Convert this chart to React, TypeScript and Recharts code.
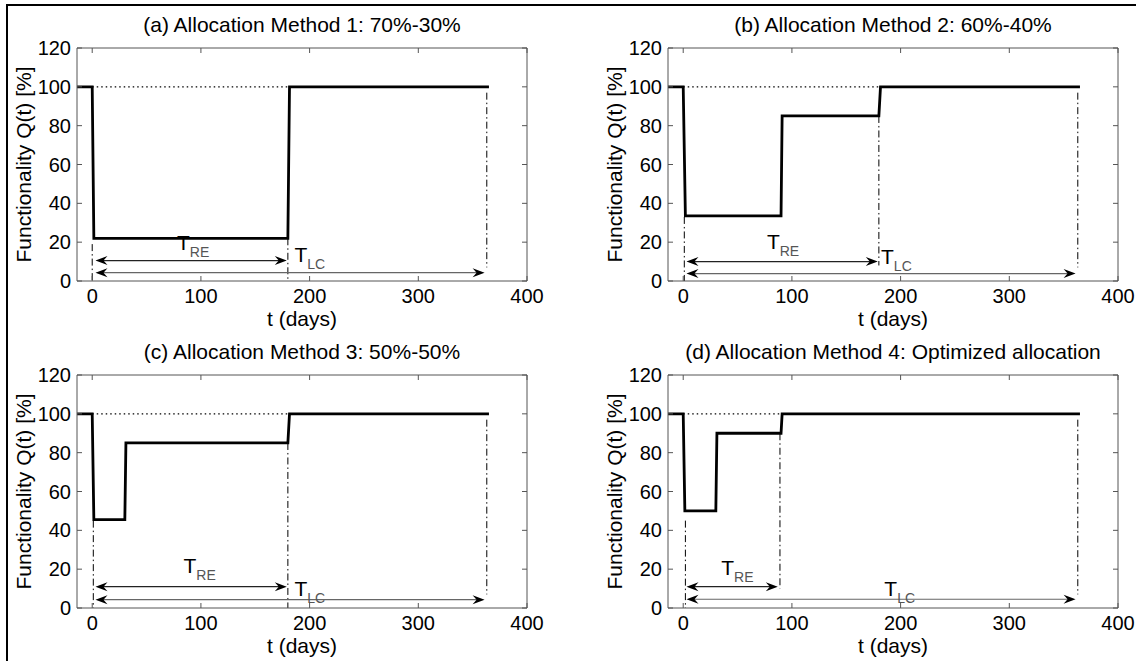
import { LineChart, Line, XAxis, YAxis, ReferenceLine, ReferenceDot, Label } from 'recharts'

const titles = [
    '(a) Allocation Method 1: 70%-30%',
    '(b) Allocation Method 2: 60%-40%',
    '(c) Allocation Method 3: 50%-50%',
    '(d) Allocation Method 4: Optimized allocation',
]

const xTicks = [0, 100, 200, 300, 400]
const yTicks = [0, 20, 40, 60, 80, 100, 120]

// functionality Q(t) step curves
const tA = [-14, 0, 1.5, 180, 181.5, 365]
const qA = [100, 100, 22, 22, 100, 100]
const tB = [-14, 0, 2, 90, 91, 180, 181.5, 365]
const qB = [100, 100, 33.5, 33.5, 85, 85, 100, 100]
const tC = [-14, 0, 1.5, 30, 31, 180, 181.5, 365]
const qC = [100, 100, 45.5, 45.5, 85, 85, 100, 100]
const tD = [-14, 0, 1.5, 30, 31, 90, 91, 365]
const qD = [100, 100, 50, 50, 90, 90, 100, 100]

// markers
const dropT = [0, 1, 1, 2]
const dropTop = [19, 33, 45, 45]
const recoveryEnd = [180, 180, 180, 89]
const recoveryTop = [22, 85, 85, 90]
const recoveryBottom = [0, 8, 0, 10]
const dottedEnd = [181, 182, 182, 91]
const lifeCycleEnd = 363
const lifeCycleTop = 97
const lifeCycleBottom = 7
const reArrowStart = [3, 3, 3, 3]
const reArrowEnd = [179, 179, 179, 87]
const lcArrowEnd = 361
const reArrowY = [10.5, 10, 11, 11]
const lcArrowY = [4.3, 3.8, 4.3, 4.5]
const reLabelX = [78, 77, 84, 35]
const reLabelY = [16, 16.5, 18, 17]
const lcLabelX = [186, 182, 186, 185]
const lcLabelY = [10, 9, 6, 6]

const curves = [
    tA.map((t, i) => ({ t, q: qA[i] })),
    tB.map((t, i) => ({ t, q: qB[i] })),
    tC.map((t, i) => ({ t, q: qC[i] })),
    tD.map((t, i) => ({ t, q: qD[i] })),
]

const chartLeft = [0, 591, 0, 591]
const chartTop = [0, 0, 327, 327]
const chartWidth = [560, 545, 560, 545]

const dashDot = '7 3 1.5 3'

function Arrow(props: any) {
    const { x1, y1, x2, y2, stroke } = props
    const L = 12, w = 4.5, n = 4
    return (
        <g>
            <line x1={x1 + 4} y1={y1} x2={x2 - 4} y2={y2} stroke={stroke} strokeWidth={1.2} />
            <polygon points={`${x1},${y1} ${x1 + L},${y1 - w} ${x1 + L - n},${y1} ${x1 + L},${y1 + w}`} fill="#000" />
            <polygon points={`${x2},${y2} ${x2 - L},${y2 - w} ${x2 - L + n},${y2} ${x2 - L},${y2 + w}`} fill="#000" />
        </g>
    )
}

function subLabel(main: string, sub: string) {
    return (props: any) => (
        <text x={props.cx} y={props.cy} fontSize={21} fill="#000">
            <tspan>{main}</tspan>
            <tspan dy={7} fontSize={14} fill="#555">{sub}</tspan>
        </text>
    )
}

function Panel({ i }: { i: number }) {
    return (
        <div style={{ position: 'absolute', left: chartLeft[i], top: chartTop[i] }}>
            <LineChart width={chartWidth[i]} height={330}
                margin={{ top: 47, right: chartWidth[i] - 528, bottom: 0, left: 0 }}>
                <XAxis dataKey="t" type="number" domain={[-14, 400]} ticks={xTicks} allowDataOverflow
                    interval={0} height={49} tickSize={-5} tickMargin={13}
                    tick={{ fontSize: 20, fill: '#000' }}
                    axisLine={{ stroke: '#555' }} tickLine={{ stroke: '#555' }}
                    label={<Label content={(p: any) => (
                        <text x={p.viewBox.x + p.viewBox.width / 2} y={p.viewBox.y + 45}
                            textAnchor="middle" fontSize={21} fill="#000">t (days)</text>
                    )} />} />
                <XAxis xAxisId="top" dataKey="t" orientation="top" type="number" domain={[-14, 400]} ticks={xTicks}
                    allowDataOverflow interval={0} height={1} tickSize={-5} tickFormatter={() => ''}
                    axisLine={{ stroke: '#555' }} tickLine={{ stroke: '#555' }}
                    label={<Label content={(p: any) => (
                        <text x={p.viewBox.x + p.viewBox.width / 2} y={p.viewBox.y - 15}
                            textAnchor="middle" fontSize={21} fill="#000">{titles[i]}</text>
                    )} />} />
                <YAxis type="number" domain={[0, 120]} ticks={yTicks} allowDataOverflow interval={0}
                    width={77} tickSize={-5} tickMargin={11}
                    tick={{ fontSize: 20, fill: '#000' }}
                    axisLine={{ stroke: '#555' }} tickLine={{ stroke: '#555' }}
                    label={<Label content={(p: any) => {
                        const cy = p.viewBox.y + p.viewBox.height / 2
                        return (
                            <text x={31} y={cy} transform={`rotate(-90, 31, ${cy})`}
                                textAnchor="middle" fontSize={21} fill="#000">Functionality Q(t) [%]</text>
                        )
                    }} />} />
                <YAxis yAxisId="right" orientation="right" type="number" domain={[0, 120]} ticks={yTicks}
                    allowDataOverflow interval={0} width={1} tickSize={-5} tickFormatter={() => ''}
                    axisLine={{ stroke: '#555' }} tickLine={{ stroke: '#555' }} />

                <ReferenceLine segment={[{ x: 0, y: 100 }, { x: dottedEnd[i], y: 100 }]}
                    stroke="#000" strokeWidth={1.2} strokeDasharray="1.5 3" />
                <ReferenceLine segment={[{ x: dropT[i], y: dropTop[i] }, { x: dropT[i], y: 0 }]}
                    stroke="#000" strokeWidth={1} strokeDasharray={dashDot} />
                <ReferenceLine segment={[{ x: recoveryEnd[i], y: recoveryTop[i] }, { x: recoveryEnd[i], y: recoveryBottom[i] }]}
                    stroke="#000" strokeWidth={1} strokeDasharray={dashDot} />
                <ReferenceLine segment={[{ x: lifeCycleEnd, y: lifeCycleTop }, { x: lifeCycleEnd, y: lifeCycleBottom }]}
                    stroke="#000" strokeWidth={1} strokeDasharray={dashDot} />

                <ReferenceLine segment={[{ x: reArrowStart[i], y: reArrowY[i] }, { x: reArrowEnd[i], y: reArrowY[i] }]}
                    stroke="#222" shape={Arrow} />
                <ReferenceLine segment={[{ x: reArrowStart[i], y: lcArrowY[i] }, { x: lcArrowEnd, y: lcArrowY[i] }]}
                    stroke="#666" shape={Arrow} />

                <ReferenceDot x={reLabelX[i]} y={reLabelY[i]} r={0} shape={subLabel('T', 'RE')} />
                <ReferenceDot x={lcLabelX[i]} y={lcLabelY[i]} r={0} shape={subLabel('T', 'LC')} />

                {/* invisible copy so the top/right box axes get drawn */}
                <Line xAxisId="top" yAxisId="right" data={curves[i]} dataKey="q" type="linear" stroke="none"
                    dot={false} activeDot={false} legendType="none" isAnimationActive={false} />
                <Line data={curves[i]} dataKey="q" type="linear" stroke="#000" strokeWidth={2.8}
                    strokeLinejoin="miter" dot={false} isAnimationActive={false} />
            </LineChart>
        </div>
    )
}

export default function App() {
    return (
        <div style={{
            position: 'fixed', left: 0, top: 0, width: 1136, height: 661, background: '#fff',
            overflow: 'hidden', fontFamily: '"Liberation Sans", Arial, sans-serif'
        }}>
            <div style={{
                position: 'absolute', left: 6, top: 4, width: 1300, height: 800,
                borderTop: '2px solid #000', borderLeft: '2px solid #000'
            }} />
            {[0, 1, 2, 3].map(i => <Panel key={i} i={i} />)}
        </div>
    )
}
